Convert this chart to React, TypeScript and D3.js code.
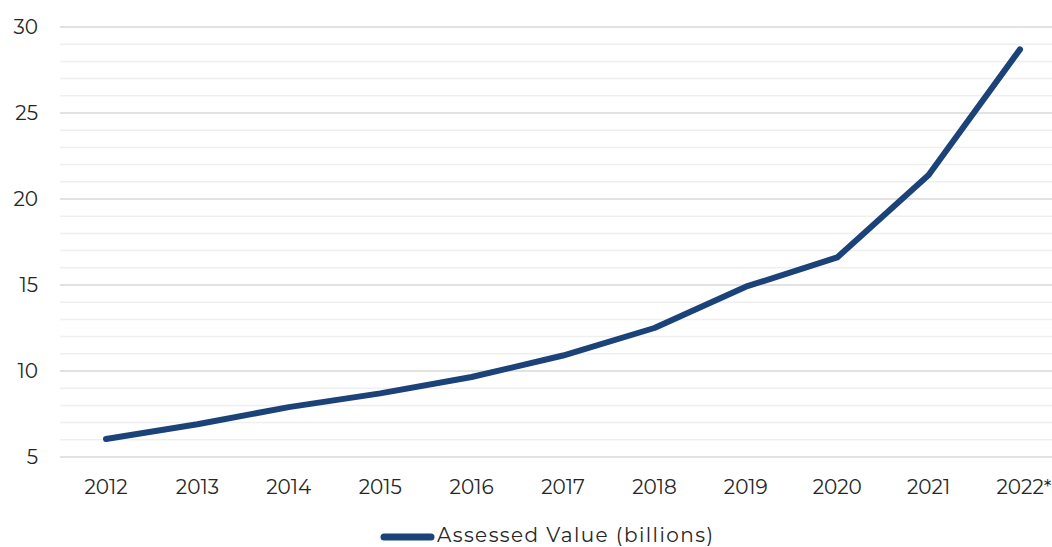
import React from "react";
import * as d3 from "d3";

const years = ["2012", "2013", "2014", "2015", "2016", "2017", "2018", "2019", "2020", "2021", "2022*"];
const assessedValue = [6.05, 6.9, 7.9, 8.7, 9.65, 10.9, 12.5, 14.9, 16.6, 21.4, 28.7];
const yTicks = [5, 10, 15, 20, 25, 30];
const seriesName = "Assessed Value (billions)";

const W = 1052;
const H = 547;
const FONT = "Montserrat, 'Open Sans', 'Noto Sans', sans-serif";

export default function App() {
  const x = d3.scaleBand<string>().domain(years).range([60.3, 1065.7]);
  const y = d3.scaleLinear().domain([5, 30]).range([457, 27]);
  const minor = d3.range(5, 30.001, 1).filter((v) => v % 5 !== 0);
  const line = d3
    .line<number>()
    .x((_, i) => (x(years[i]) as number) + x.bandwidth() / 2)
    .y((d) => y(d));

  return (
    <svg width={W} height={H} style={{ position: "absolute", left: 0, top: 0, background: "#fff" }}>
      <rect width={W} height={H} fill="#fff" />
      {minor.map((v) => (
        <line key={"m" + v} x1={60} x2={W} y1={y(v)} y2={y(v)} stroke="#efefef" strokeWidth={1.5} />
      ))}
      {yTicks.map((v) => (
        <line key={"M" + v} x1={60} x2={W} y1={y(v)} y2={y(v)} stroke="#d9d9d9" strokeWidth={1.5} />
      ))}
      {yTicks.map((v) => (
        <text key={"t" + v} x={38} y={y(v)} dy="0.35em" textAnchor="end" fontFamily={FONT} fontSize={20} fill="#262626">
          {v}
        </text>
      ))}
      {years.map((yr) => (
        <text
          key={yr}
          x={(x(yr) as number) + x.bandwidth() / 2 + (yr.endsWith("*") ? 4 : 0)}
          y={494}
          textAnchor="middle"
          fontFamily={FONT}
          fontSize={20}
          fill="#262626"
        >
          {yr}
        </text>
      ))}
      <path d={line(assessedValue) || ""} fill="none" stroke="#1b4279" strokeWidth={6} strokeLinecap="round" strokeLinejoin="round" />
      <line x1={384} x2={431} y1={537} y2={537} stroke="#1b4279" strokeWidth={7} strokeLinecap="round" />
      <text x={437} y={542} fontFamily={FONT} fontSize={20} fill="#262626" textLength={276} lengthAdjust="spacing">
        {seriesName}
      </text>
    </svg>
  );
}
